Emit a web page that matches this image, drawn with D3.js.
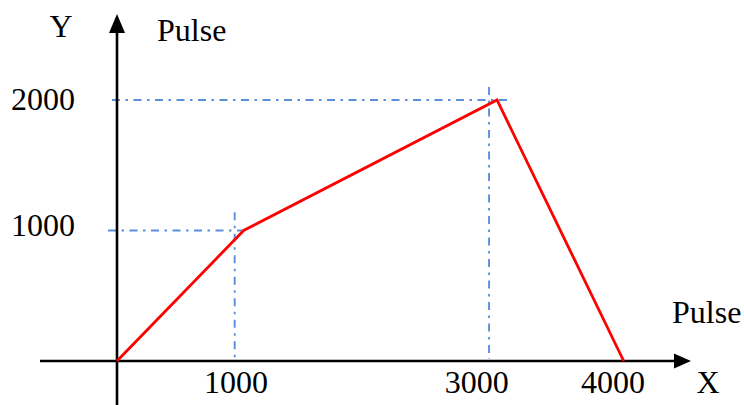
<!DOCTYPE html>
<html>
<head>
<meta charset="utf-8">
<script src="https://cdn.jsdelivr.net/npm/d3@7"></script>
<style>
  html, body { margin: 0; padding: 0; background: #fff; }
  svg { display: block; }
  text { font-family: "Liberation Serif", "Times New Roman", serif; fill: #000; }
</style>
</head>
<body>
<svg id="chart" width="744" height="405"></svg>
<script>
// ---- data ----
const pulseX = [0, 1000, 3000, 4000];
const pulseY = [0, 1000, 2000, 0];
const xTickLabels = ["1000", "3000", "4000"];
const xTickValues = [940, 2840, 3915];      // where the labels sit
const yTickLabels = ["1000", "2000"];
const yTickValues = [1000, 2000];
const guideXValues = [929, 2937];            // vertical dash-dot guides
const guideXTops = [1140, 2100];             // how high they reach
const guideYValues = [1000, 2000];           // horizontal dash-dot guides
const guideYEnds = [1030, 3080];             // how far right they reach
const axisTitles = ["Y", "Pulse", "Pulse", "X"];

// ---- layout ----
const svg = d3.select("#chart");
const x = d3.scaleLinear().domain([0, 4000]).range([117, 623.7]);
const y = d3.scaleLinear().domain([0, 2000]).range([361, 100]);

const blue = "#5b8fdc";
const dash = "8,5.5,2.5,5.5";

// guides
const g = svg.append("g");
g.selectAll("line.vg").data(guideXValues).join("line")
  .attr("class", "vg")
  .attr("x1", d => x(d)).attr("x2", d => x(d))
  .attr("y1", (d, i) => y(guideXTops[i])).attr("y2", y(0) - 2)
  .attr("stroke", blue).attr("stroke-width", 1.9).attr("stroke-dasharray", dash);
g.selectAll("line.hg").data(guideYValues).join("line")
  .attr("class", "hg")
  .attr("x1", (d, i) => i === 0 ? 108 : 112)
  .attr("x2", (d, i) => x(guideYEnds[i]))
  .attr("y1", d => y(d)).attr("y2", d => y(d))
  .attr("stroke", blue).attr("stroke-width", 1.9).attr("stroke-dasharray", dash);

// axes with arrows
const axisW = 2.6;
svg.append("line").attr("x1", 40).attr("x2", 676).attr("y1", y(0)).attr("y2", y(0))
  .attr("stroke", "#000").attr("stroke-width", axisW);
svg.append("path")
  .attr("d", `M691,${y(0)} L674,${y(0) - 7.5} L674,${y(0) + 7.5} Z`).attr("fill", "#000");
svg.append("line").attr("x1", x(0)).attr("x2", x(0)).attr("y1", 405).attr("y2", 30)
  .attr("stroke", "#000").attr("stroke-width", axisW);
svg.append("path")
  .attr("d", `M${x(0)},14 L${x(0) - 8},33 L${x(0) + 8},33 Z`).attr("fill", "#000");

// red line
const pts = pulseX.map((v, i) => [v, pulseY[i]]);
svg.append("path").datum(pts)
  .attr("d", d3.line().x(d => x(d[0])).y(d => y(d[1])))
  .attr("fill", "none").attr("stroke", "#ff0000").attr("stroke-width", 2.8)
  .attr("stroke-linejoin", "miter");

// tick labels
const fs = 32;
svg.selectAll("text.xt").data(xTickLabels).join("text")
  .attr("class", "xt")
  .attr("x", (d, i) => x(xTickValues[i])).attr("y", 393)
  .attr("text-anchor", "middle").attr("font-size", fs).text(d => d);
svg.selectAll("text.yt").data(yTickLabels).join("text")
  .attr("class", "yt")
  .attr("x", 75).attr("y", (d, i) => y(yTickValues[i]) + (i === 0 ? 5 : 10))
  .attr("text-anchor", "end").attr("font-size", fs).text(d => d);

// axis titles
svg.append("text").attr("x", 61).attr("y", 37).attr("text-anchor", "middle")
  .attr("font-size", fs).text(axisTitles[0]);
svg.append("text").attr("x", 157).attr("y", 41).attr("font-size", fs).text(axisTitles[1]);
svg.append("text").attr("x", 672).attr("y", 323).attr("font-size", fs).text(axisTitles[2]);
svg.append("text").attr("x", 708).attr("y", 393).attr("text-anchor", "middle")
  .attr("font-size", fs).text(axisTitles[3]);
</script>
</body>
</html>
